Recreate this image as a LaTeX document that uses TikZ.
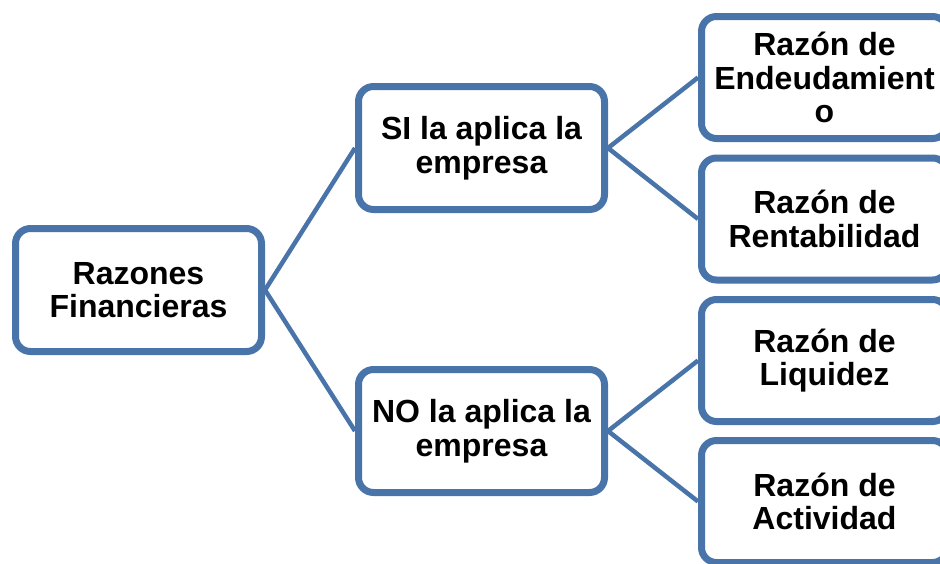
\documentclass[tikz,border=0pt]{standalone}
\usepackage{fontspec}
\setmainfont{Liberation Sans}
\usetikzlibrary{shadows}
\definecolor{azulborde}{RGB}{72,116,170}
\tikzset{
  caja/.style={draw=azulborde,line width=7pt,fill=white,rounded corners=15pt,
    minimum width=246pt,minimum height=123pt,inner sep=0pt,align=center,
    font=\fontsize{32}{33.5}\selectfont\bfseries,
    drop shadow={opacity=0.25,shadow xshift=0pt,shadow yshift=-3pt}},
  rama/.style={draw=azulborde,line width=4.5pt}
}
\begin{document}
\begin{tikzpicture}[x=1pt,y=-1pt]
				\useasboundingbox (0,0) rectangle (940,563);
				\node[caja] (raiz) at (138.5,290) {Razones\\Financieras};
				\node[caja] (si) at (481.5,148) {SI la aplica la\\empresa};
				\node[caja] (no) at (481.5,431) {NO la aplica la\\empresa};
				\node[caja,minimum height=122pt] (endeuda) at (824.5,77.5) {Razón de\\Endeudamient\\o};
				\node[caja,minimum height=122pt] (renta) at (824.5,219) {Razón de\\Rentabilidad};
				\node[caja,minimum height=122pt] (liquidez) at (824.5,360.5) {Razón de\\Liquidez};
				\node[caja,minimum height=122pt] (activ) at (824.5,501.5) {Razón de\\Actividad};
				\draw[rama] (raiz.east) -- (si.west) (raiz.east) -- (no.west);
				\draw[rama] (si.east) -- (endeuda.west) (si.east) -- (renta.west);
				\draw[rama] (no.east) -- (liquidez.west) (no.east) -- (activ.west);
			\end{tikzpicture}
\end{document}
